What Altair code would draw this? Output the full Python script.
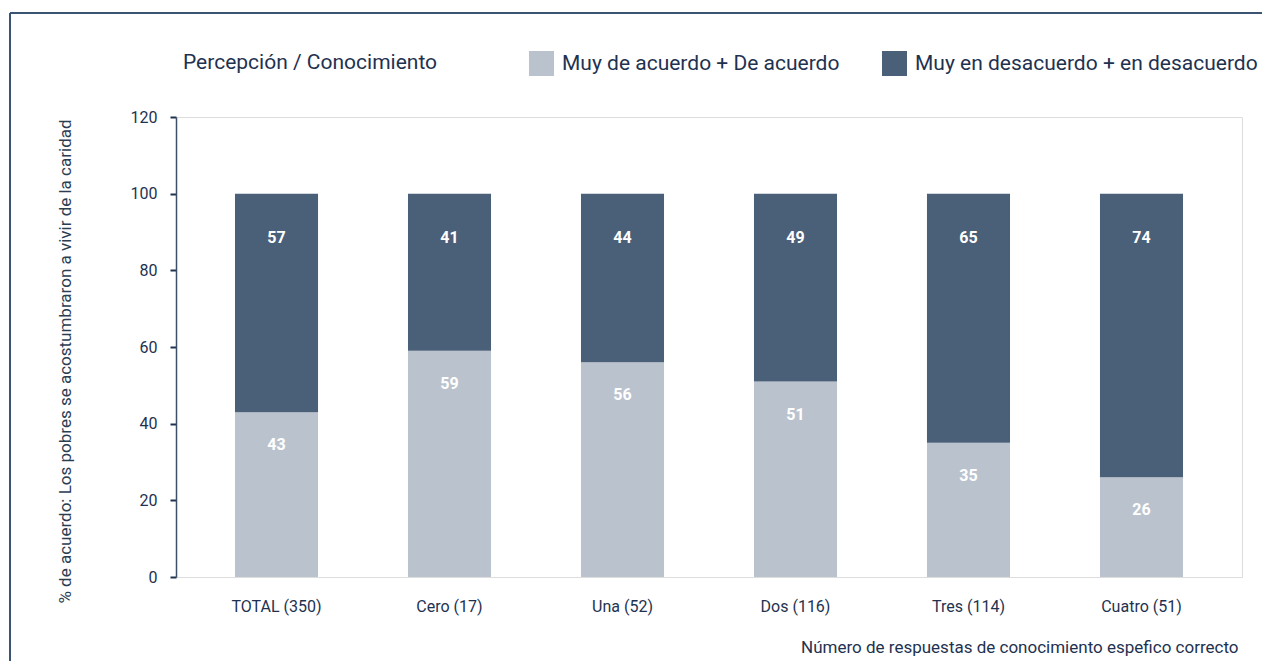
import altair as alt
import pandas as pd

categories = ["TOTAL (350)", "Cero (17)", "Una (52)", "Dos (116)", "Tres (114)", "Cuatro (51)"]
acuerdo = [43, 59, 56, 51, 35, 26]
desacuerdo = [57, 41, 44, 49, 65, 74]
series_names = ["Muy de acuerdo + De acuerdo", "Muy en desacuerdo + en desacuerdo"]
series_colors = ["#bac3cd", "#4a5f78"]
y_ticks = [0, 20, 40, 60, 80, 100, 120]

rows = []
for c, a, d in zip(categories, acuerdo, desacuerdo):
    rows.append({"cat": c, "serie": series_names[0], "valor": a, "orden": 0, "top": a})
    rows.append({"cat": c, "serie": series_names[1], "valor": d, "orden": 1, "top": a + d})
df = pd.DataFrame(rows)

TXT = "#1e3250"
FONT = "Roboto"

x_enc = alt.X(
    "cat:N", sort=categories,
    scale=alt.Scale(paddingInner=0.52, paddingOuter=0.341),
    axis=alt.Axis(
        title="Número de respuestas de conocimiento espefico correcto",
        domain=False, ticks=False, labelAngle=0, labelFontSize=16, labelFont=FONT,
        labelColor=TXT, labelPadding=21,
        titleFontSize=17, titleFont=FONT, titleFontWeight="normal", titleColor=TXT,
        titleAnchor="end", titleAlign="right", titleBaseline="middle",
        titleX=1062, titleY=70,
    ),
)

y_scale = alt.Scale(domain=[0, 120])

bars = alt.Chart(df).mark_bar().encode(
    x=x_enc,
    y=alt.Y(
        "valor:Q", stack="zero", scale=y_scale,
        axis=alt.Axis(
            title="% de acuerdo: Los pobres se acostumbraron a vivir de la caridad",
            values=y_ticks, grid=False, tickColor=TXT, tickWidth=2, tickSize=6,
            domainColor="#3d5068", domainWidth=1.5, labelFontSize=16, labelFont=FONT,
            labelColor=TXT, labelPadding=13,
            titleFontSize=17, titleFont=FONT, titleFontWeight="normal", titleColor="#2c3d52",
            titleX=-111, titleY=244, titleAlign="center", titleBaseline="middle",
        ),
    ),
    color=alt.Color(
        "serie:N",
        scale=alt.Scale(domain=series_names, range=series_colors),
        legend=alt.Legend(
            title=None, orient="none", legendX=353, legendY=-66, direction="horizontal",
            symbolType="square", symbolSize=625, symbolStrokeWidth=0, symbolOpacity=1,
            labelFontSize=21, labelFont=FONT, labelColor=TXT, labelOffset=8,
            labelLimit=500, columnPadding=42, padding=0,
        ),
    ),
    order=alt.Order("orden:Q"),
)

light_labels = alt.Chart(df).transform_filter(
    alt.datum.orden == 0
).mark_text(color="white", fontSize=16, fontWeight="bold", font=FONT, dy=33, baseline="middle").encode(
    x=alt.X("cat:N", sort=categories),
    y=alt.Y("top:Q", stack=None, scale=y_scale),
    text=alt.Text("valor:Q"),
)

dark_labels = alt.Chart(df).transform_filter(
    alt.datum.orden == 1
).mark_text(color="white", fontSize=16, fontWeight="bold", font=FONT, dy=44, baseline="middle").encode(
    x=alt.X("cat:N", sort=categories),
    y=alt.Y("top:Q", stack=None, scale=y_scale),
    text=alt.Text("valor:Q"),
)

frame_top = alt.Chart(df).mark_rule(color="#3d5573", strokeWidth=1.5).encode(
    x=alt.value(-166), x2=alt.value(1094), y=alt.value(-104)
)
frame_left = alt.Chart(df).mark_rule(color="#3d5573", strokeWidth=1.5).encode(
    x=alt.value(-166), y=alt.value(-104), y2=alt.value(548)
)

chart = alt.layer(bars, light_labels, dark_labels, frame_top, frame_left).properties(
    width=1066, height=460,
    title=alt.TitleParams(
        "Percepción / Conocimiento", anchor="start", frame="group", dx=7, dy=116, offset=38,
        fontSize=21, fontWeight="normal", font=FONT, color=TXT, baseline="alphabetic",
    ),
    autosize=alt.AutoSizeParams(type="none"),
    padding={"left": 168, "top": 109, "right": 20, "bottom": 84},
).configure_view(
    fill="#f2f3f5", stroke="#73859a", strokeWidth=1.5
).configure(background="white")

chart.save("out.html", embed_options={"renderer": "svg", "actions": False})
